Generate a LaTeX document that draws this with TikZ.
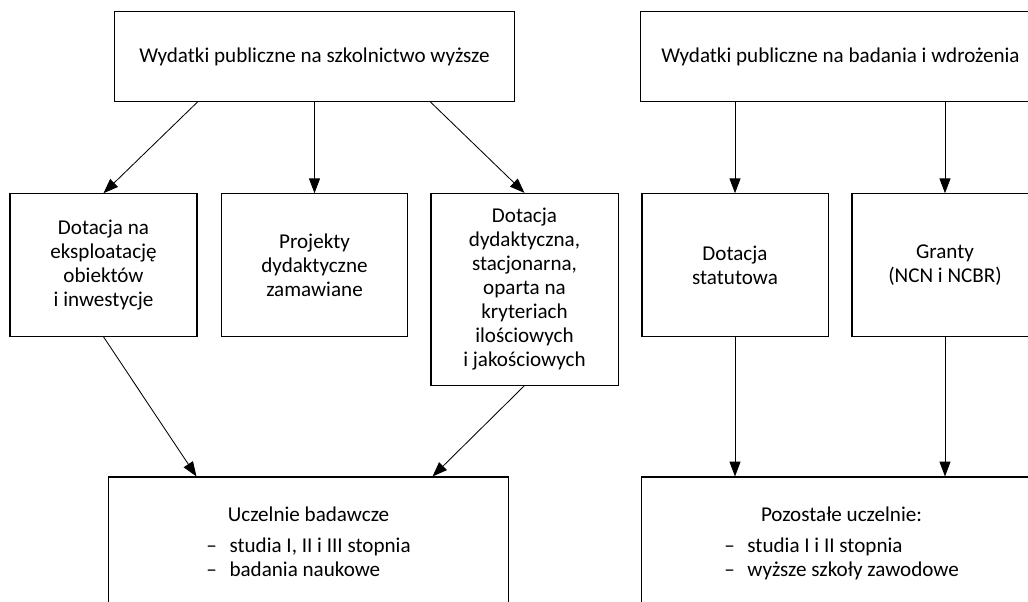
\documentclass[tikz,border=0pt]{standalone}
\usepackage{fontspec}
\setmainfont{Carlito}
\usetikzlibrary{arrows.meta}

\begin{document}
\begin{tikzpicture}[x=0.025cm,y=-0.025cm,
        box/.style={draw,line width=0.75pt,align=center,inner sep=0pt,
            font=\fontsize{15}{17}\selectfont},
        arr/.style={line width=0.6pt,-{Triangle[length=10.5pt,width=7.8pt]}}]
        \useasboundingbox (0,0) rectangle (1028,601);
        \clip (0,0) rectangle (1028,601);

        \node[box,minimum width=9.975cm,minimum height=2.25cm] (wsz) at (314.5,56.5) {Wydatki publiczne na szkolnictwo wyższe};
        \node[box,minimum width=9.975cm,minimum height=2.25cm] (wbw) at (840.5,56.5) {Wydatki publiczne na badania i wdrożenia};

        \node[box,minimum width=4.675cm,minimum height=3.5625cm] (dote) at (103.5,265) {Dotacja na\\eksploatację\\obiektów\\i inwestycje};
        \node[box,minimum width=4.65cm,minimum height=3.5625cm]  (proj) at (314.5,265) {Projekty\\dydaktyczne\\zamawiane};
        \node[box,minimum width=4.675cm,minimum height=4.79cm]   (dotd) at (524.5,289.25) {Dotacja\\dydaktyczna,\\stacjonarna,\\oparta na\\kryteriach\\ilościowych\\i jakościowych};
        \node[box,minimum width=4.65cm,minimum height=3.5625cm]  (stat) at (735,265) {Dotacja\\statutowa};
        \node[box,minimum width=4.65cm,minimum height=3.5625cm]  (gran) at (945,265) {Granty\\(NCN i NCBR)};

        \node[box,minimum width=9.975cm,minimum height=3.4cm] (ucz) at (308.5,545) {Uczelnie badawcze\\[5pt]
            \begin{tabular}[t]{@{}l@{}}\makebox[1.1em][l]{–}studia I, II i III stopnia\\\makebox[1.1em][l]{–}badania naukowe\end{tabular}};
        \node[box,minimum width=9.975cm,minimum height=3.4cm] (poz) at (841.5,545) {Pozostałe uczelnie:\\[5pt]
            \begin{tabular}[t]{@{}l@{}}\makebox[1.1em][l]{–}studia I i II stopnia\\\makebox[1.1em][l]{–}wyższe szkoły zawodowe\end{tabular}};

        \draw[arr] ([xshift=-2.925cm]wsz.south) -- (dote.north);
        \draw[arr] (wsz.south) -- (proj.north);
        \draw[arr] ([xshift=2.9cm]wsz.south) -- (dotd.north);
        \draw[arr] (stat.north |- wbw.south) -- (stat.north);
        \draw[arr] (gran.north |- wbw.south) -- (gran.north);

        \draw[arr] (dote.south) -- ([xshift=-2.8cm]ucz.north);
        \draw[arr] (dotd.south) -- ([xshift=3.1cm]ucz.north);
        \draw[arr] (stat.south) -- (stat.south |- poz.north);
        \draw[arr] (gran.south) -- (gran.south |- poz.north);
    \end{tikzpicture}
\end{document}
